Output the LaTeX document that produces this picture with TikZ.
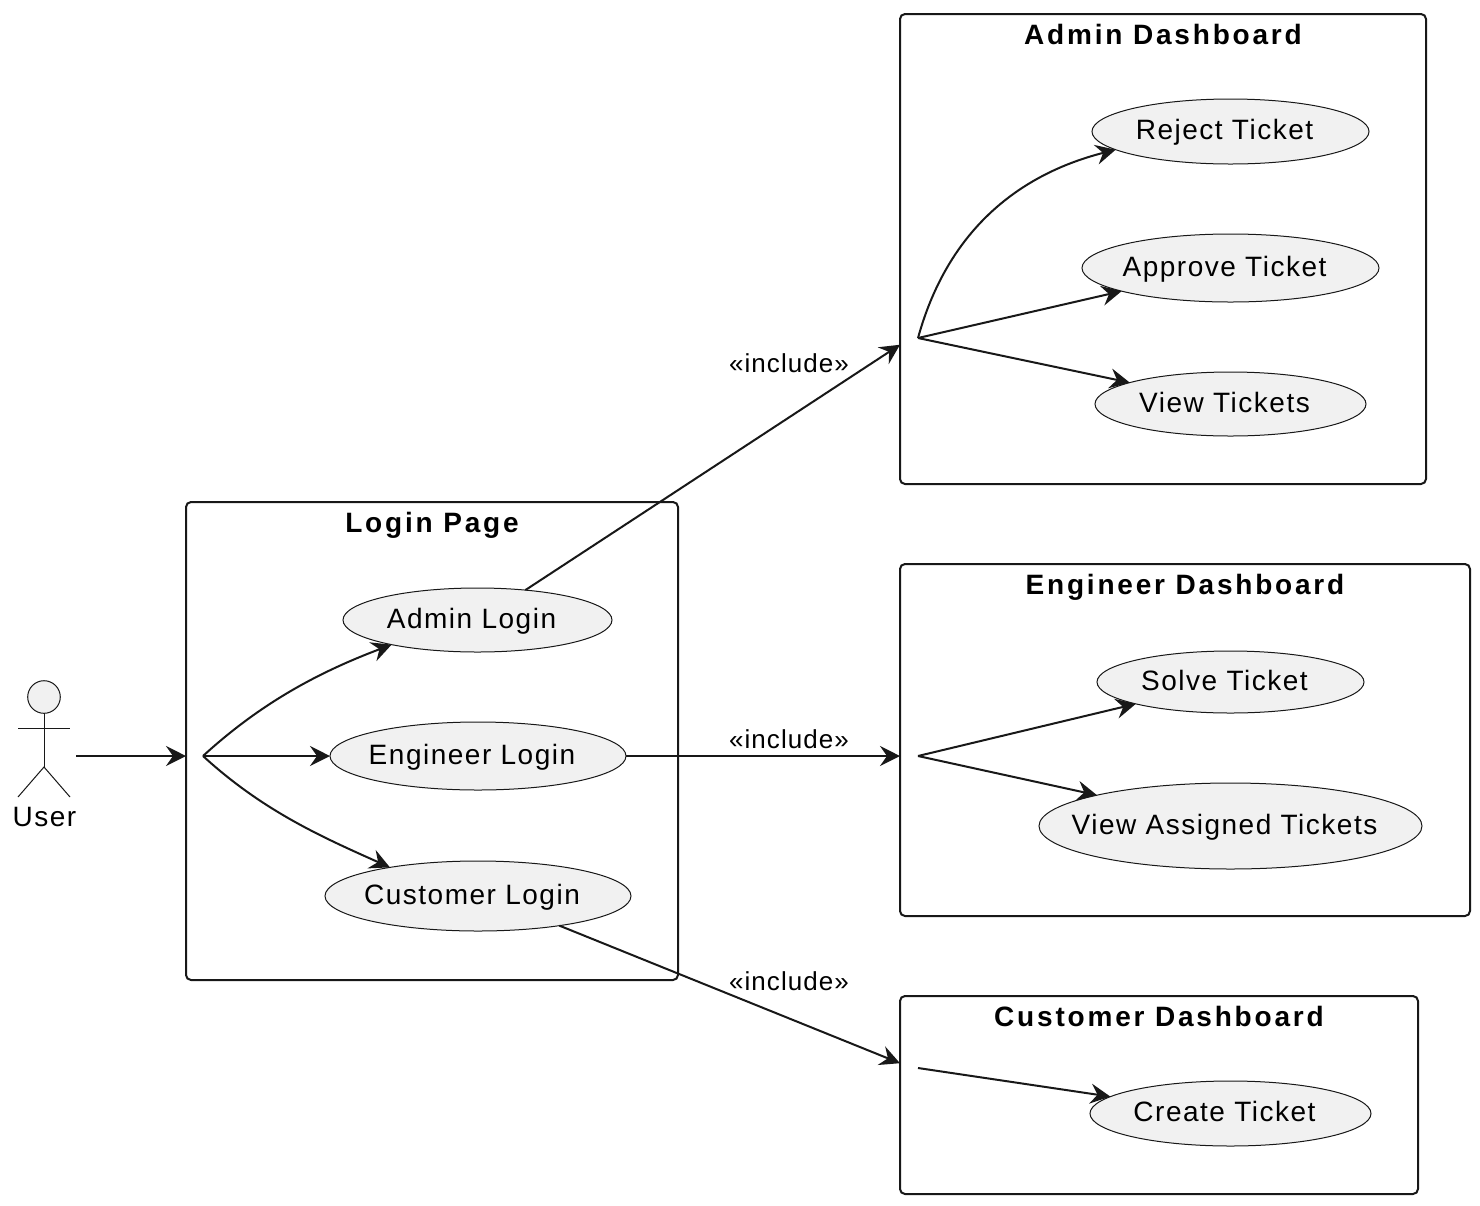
\documentclass[tikz,border=0pt]{standalone}
\usepackage{fontspec}
\setmainfont{Liberation Sans}
\newfontfamily\usecasefont[LetterSpace=5.4]{Liberation Sans}
\newfontfamily\titlefont[LetterSpace=10]{Liberation Sans}
\newfontfamily\linkfont[LetterSpace=4]{Liberation Sans}
\usetikzlibrary{shapes.geometric, arrows.meta, positioning}
\definecolor{umlline}{HTML}{181818}
\definecolor{umlfill}{HTML}{F1F1F1}
\newcommand{\casetext}[1]{\makebox[0pt]{#1\kern6pt}}

\begin{document}
\begin{tikzpicture}[
    x=0.5pt, y=-0.5pt,
    panel/.style={rectangle, draw=umlline, line width=1pt, rounded corners=2.5pt, outer sep=0pt},
    paneltitle/.style={inner sep=0pt, text height=10pt, text depth=3pt, font=\fontsize{14}{16}\titlefont\bfseries},
    usecase/.style={ellipse, draw=umlline, fill=umlfill, line width=0.5pt, inner sep=0pt, outer sep=0pt, text height=10pt, text depth=2pt,
        font=\fontsize{14}{16}\usecasefont},
    actorline/.style={draw=umlline, line width=0.5pt},
    linklabel/.style={inner sep=0pt, anchor=base, font=\fontsize{13}{15}\linkfont},
    arrow/.style={-{Stealth[length=10pt, width=10pt, inset=3.5pt]}, draw=umlline, line width=1pt}
]
    \useasboundingbox (0,0) rectangle (1480,1206);

    % panels
    \node[panel, minimum width=246pt, minimum height=239pt] (login) at (432,741) {};
    \node[panel, minimum width=263pt, minimum height=235pt] (admindash) at (1163,249) {};
    \node[panel, minimum width=285pt, minimum height=176pt] (engineerdash) at (1185,740) {};
    \node[panel, minimum width=259pt, minimum height=99pt] (customerdash) at (1159,1095) {};

    \node[paneltitle, below=5pt of login.north] (logintitle) {Login Page};
    \node[paneltitle, below=5pt of admindash.north] (admintitle) {Admin Dashboard};
    \node[paneltitle, below=5pt of engineerdash.north] (engineertitle) {Engineer Dashboard};
    \node[paneltitle, below=5pt of customerdash.north] (customertitle) {Customer Dashboard};

    % use cases
    \node[usecase, minimum width=134.5pt, minimum height=32pt] (adminlogin) at (477.5,620) {\casetext{Admin Login}};
    \node[usecase, minimum width=148pt, minimum height=34pt] (engineerlogin) at (478,756) {\casetext{Engineer Login}};
    \node[usecase, minimum width=153pt, minimum height=35pt] (customerlogin) at (478,896) {\casetext{Customer Login}};
    \node[usecase, minimum width=138.5pt, minimum height=32.5pt] (reject) at (1230.5,131.5) {\casetext{Reject Ticket}};
    \node[usecase, minimum width=148.5pt, minimum height=34pt] (approve) at (1230.5,268) {\casetext{Approve Ticket}};
    \node[usecase, minimum width=135.5pt, minimum height=32pt] (viewtickets) at (1230.5,404) {\casetext{View Tickets}};
    \node[usecase, minimum width=133.5pt, minimum height=31pt] (solve) at (1230.5,682) {\casetext{Solve Ticket}};
    \node[usecase, minimum width=191.5pt, minimum height=43pt] (viewassigned) at (1230.5,826) {\casetext{View Assigned Tickets}};
    \node[usecase, minimum width=140.5pt, minimum height=32.5pt] (create) at (1230.5,1113.5) {\casetext{Create Ticket}};

    % actor
    \node[circle, draw=umlline, fill=umlfill, line width=0.5pt, inner sep=0pt, outer sep=0pt, minimum size=16.3pt] (user) at (44,697) {};
    \node[inner sep=0pt, text height=10pt, text depth=2pt, font=\fontsize{14}{16}\usecasefont] (userlabel) at (44.5,818) {User};
    \coordinate (hip) at (44,767);
    \coordinate (armleft) at (18,728);
    \coordinate (armright) at (70,728);
    \coordinate (footleft) at (18,797);
    \coordinate (footright) at (70,797);
    \draw[actorline] (user) -- (hip);
    \draw[actorline] (armleft) -- (armright);
    \draw[actorline] (footleft) -- (hip) -- (footright);

    % free ends
    \coordinate (userout) at (76,756);
    \coordinate (loginhub) at (203,756);
    \coordinate (adminhub) at (918,338);
    \coordinate (engineerhub) at (918,756);
    \coordinate (customerhub) at (918,1068);

    \draw[arrow] (userout) -- (userout -| login.west);
    \draw[arrow] (loginhub) .. controls (263,701) and (322,671) .. (adminlogin.196);
    \draw[arrow] (loginhub) -- (engineerlogin.west);
    \draw[arrow] (loginhub) .. controls (263,811) and (322,837) .. (customerlogin.162);

    \draw[arrow] (adminlogin.32.6) -- (admindash.200.1);
    \draw[arrow] (engineerlogin.east) -- (engineerlogin.east -| engineerdash.west);
    \draw[arrow] (customerlogin.-20.8) -- (customerdash.173.2);

    \draw[arrow] (adminhub) .. controls (950,222) and (1028,172) .. (reject.189);
    \draw[arrow] (adminhub) -- (approve.192.5);
    \draw[arrow] (adminhub) -- (viewtickets.168.4);
    \draw[arrow] (engineerhub) -- (solve.193.5);
    \draw[arrow] (engineerhub) -- (viewassigned.167.5);
    \draw[arrow] (customerhub) -- (create.172);

    % labels
    \node[linklabel] (adminlink) at (789,372) {«include»};
    \node[linklabel] (engineerlink) at (789,748) {«include»};
    \node[linklabel] (customerlink) at (789,990) {«include»};
\end{tikzpicture}
\end{document}
